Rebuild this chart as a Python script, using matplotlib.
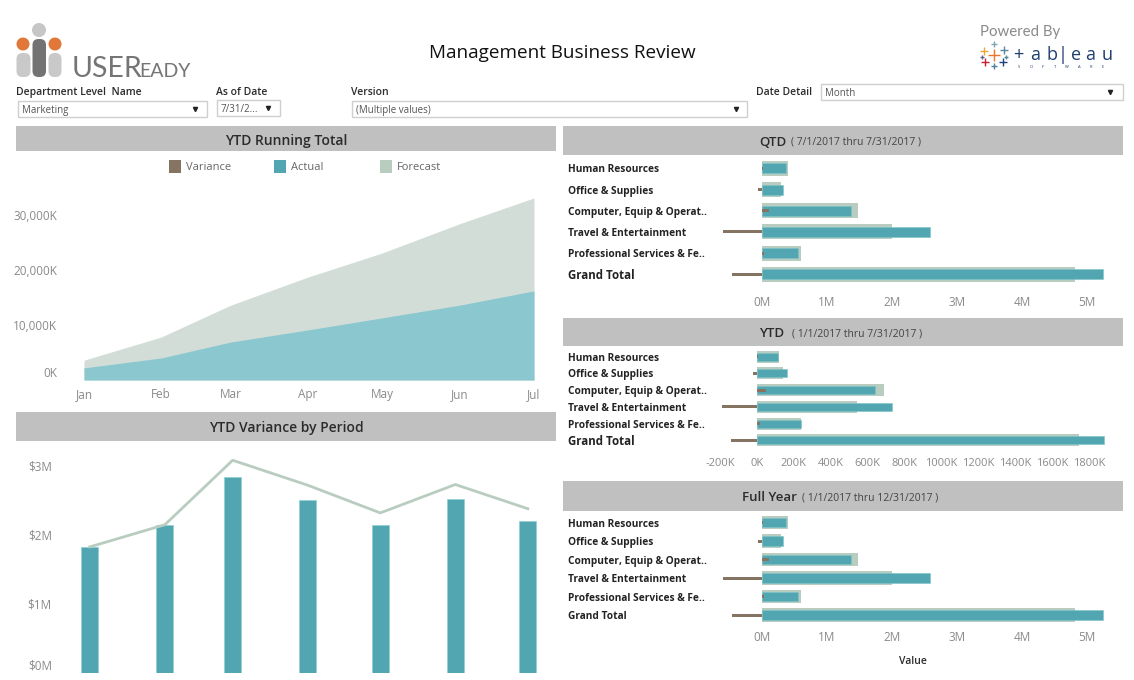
#!/usr/bin/env python3
import pandas as pd
import matplotlib
matplotlib.use('Agg')
import matplotlib.pyplot as plt
from matplotlib.patches import Circle, FancyBboxPatch, Rectangle

plt.rcParams.update({
    "font.family": ["Open Sans", "DejaVu Sans"],
    "font.size": 8,
})

# values
months = pd.to_datetime(['2017-01-01', '2017-02-01', '2017-03-01', '2017-04-01',
                         '2017-05-01', '2017-06-01', '2017-07-01'])
month_labels = ['Jan', 'Feb', 'Mar', 'Apr', 'May', 'Jun', 'Jul']

running_forecast = [3600, 7800, 13600, 18700, 23100, 28400, 33100]
running_actual = [2200, 4000, 6900, 9100, 11300, 13600, 16200]

period_actual = [1.82, 2.14, 2.83, 2.50, 2.14, 2.51, 2.19]
period_forecast = [1.82, 2.14, 3.07, 2.71, 2.31, 2.72, 2.37]

departments = ['Human Resources', 'Office & Supplies', 'Computer, Equip & Operat..',
               'Travel & Entertainment', 'Professional Services & Fe..', 'Grand Total']

qtd_forecast = [0.405, 0.29, 1.47, 2.0, 0.60, 4.81]
qtd_actual = [0.37, 0.33, 1.37, 2.58, 0.56, 5.25]
qtd_variance = [0.02, -0.055, 0.11, -0.60, 0.03, -0.46]

ytd_forecast = [117, 141, 687, 540, 241, 1745]
ytd_actual = [113, 161, 641, 731, 237, 1882]
ytd_variance = [4, -22, 48, -187, 14, -139]

fy_forecast = [0.405, 0.29, 1.47, 2.0, 0.60, 4.81]
fy_actual = [0.37, 0.33, 1.37, 2.58, 0.56, 5.25]
fy_variance = [0.02, -0.055, 0.11, -0.60, 0.03, -0.46]

VARIANCE = '#857461'
ACTUAL = '#52a6b1'
FORECAST = '#b8cdc0'
HEADER = '#c0c0c0'
TICK = '#8a8a8a'
DARK = '#2b2b2b'
W, H = 1134, 680

fig = plt.figure(figsize=(W / 100, H / 100), dpi=100, facecolor='white')

# whole-figure layer in pixel coordinates for headers, filters and logos
bg = fig.add_axes([0, 0, 1, 1])
bg.set_xlim(0, W)
bg.set_ylim(H, 0)
bg.axis('off')


def px_axes(x0, y0, x1, y1):
    ax = fig.add_axes([x0 / W, 1 - y1 / H, (x1 - x0) / W, (y1 - y0) / H])
    ax.patch.set_alpha(0)
    for s in ax.spines.values():
        s.set_visible(False)
    ax.tick_params(length=0, labelcolor=TICK, labelsize=8.5)
    return ax


def header(x0, y0, x1, y1):
    bg.add_patch(Rectangle((x0, y0), x1 - x0, y1 - y0, color=HEADER, lw=0))


def dropdown(x0, y0, x1, y1, text, arrow_x):
    bg.add_patch(Rectangle((x0, y0), x1 - x0, y1 - y0, fc='white', ec='#cfcfcf', lw=1.0))
    bg.text(x0 + 4, (y0 + y1) / 2 + 1, text, fontsize=7, color='#555555', va='center')
    bg.plot([arrow_x], [(y0 + y1) / 2 - 0.5], marker='v', ms=3, color='#222222', ls='none')


# title and logos
bg.text(562.5, 53, 'Management Business Review', fontsize=13.6, color='#111111', ha='center', va='center')

bg.add_patch(Circle((39, 30), 7, color='#c6c6c6', lw=0))
bg.add_patch(Circle((23, 44), 6.5, color='#e2773a', lw=0))
bg.add_patch(Circle((55, 44), 6.5, color='#e2773a', lw=0))
for px0, py0, px1, col in [(16.5, 53, 30.5, '#c9c9c9'), (48.5, 53, 61.5, '#c9c9c9'), (32.5, 39, 46, '#737373')]:
    bg.add_patch(FancyBboxPatch((px0 + 6, py0 + 6), px1 - px0 - 12, 77 - py0 - 12,
                                boxstyle='round,pad=6,rounding_size=6', color=col, lw=0))
bg.text(72, 77, 'USER', fontsize=20.5, color='#757575', family=['Lato', 'DejaVu Sans'], va='baseline')
bg.text(139, 77, 'EADY', fontsize=14, color='#757575', family=['Lato', 'DejaVu Sans'], va='baseline')

bg.text(980, 32, 'Powered By', fontsize=10.8, color='#8a8a8a', family=['Lato', 'DejaVu Sans'], va='center')
for lx, ly, size, col in [(994, 55, 9, '#e8762b'), (984, 51, 6, '#eba53a'), (1004, 50, 6, '#5b879b'),
                          (985, 62, 6, '#c72035'), (1003, 62, 6, '#1f447b'), (994, 44, 4, '#7fa9ae'),
                          (994, 66, 4, '#4e7fa0'), (982, 57, 3.5, '#5b6591'), (1006, 57, 3.5, '#59879b')]:
    bg.plot([lx], [ly], marker='+', ms=size, mew=1.0, color=col, ls='none')
for lx, letter in zip([1018, 1035, 1052, 1063, 1076, 1090, 1107], ['+', 'a', 'b', '|', 'e', 'a', 'u']):
    bg.text(lx, 55, letter, fontsize=13, color='#1f3f6e', ha='center', va='center')
for lx, letter in zip(range(1019, 1110, 12), 'SOFTWARE'):
    bg.text(lx, 67, letter, fontsize=3, color='#1f3f6e', ha='center', va='center')

# filters
for lx, ly, label in [(16, 92, 'Department Level  Name'), (216, 92, 'As of Date'),
                      (351, 92, 'Version'), (756, 92, 'Date Detail')]:
    bg.text(lx, ly + 0.5, label, fontsize=7.5, color=DARK, weight='semibold', va='center')
dropdown(18, 101, 207, 117, 'Marketing', 195)
dropdown(217, 100, 280, 116, '7/31/2...', 268)
dropdown(352, 101, 747, 117, '(Multiple values)', 736)
dropdown(821, 84, 1123, 100, 'Month', 1110)

# section headers
header(16, 126, 556, 151)
bg.text(286, 141, 'YTD Running Total', fontsize=10, color=DARK, weight='semibold', ha='center', va='center')
header(16, 412, 556, 441)
bg.text(286, 428, 'YTD Variance by Period', fontsize=10, color=DARK, weight='semibold', ha='center', va='center')
for y0, y1, name, name_x, span, span_x in [
        (126, 155, 'QTD', 759, '( 7/1/2017 thru 7/31/2017 )', 791),
        (318, 346, 'YTD', 759, '( 1/1/2017 thru 7/31/2017 )', 792),
        (481, 511, 'Full Year', 742, '( 1/1/2017 thru 12/31/2017 )', 802)]:
    header(563, y0, 1123, y1)
    bg.text(name_x, (y0 + y1) / 2 + 1.5, name, fontsize=9.5, color=DARK, weight='semibold', va='center')
    bg.text(span_x, (y0 + y1) / 2 + 2, span, fontsize=7.5, color='#444444', va='center')

# legend
for sx, label, col in [(169, 'Variance', VARIANCE), (274, 'Actual', ACTUAL), (380, 'Forecast', FORECAST)]:
    bg.add_patch(Rectangle((sx, 160), 12, 13, color=col, lw=0))
    bg.text(sx + 17, 167, label, fontsize=8, color='#666666', va='center')

# YTD running total
ax = px_axes(60, 175, 556, 380)
ax.fill_between(months, running_forecast, color='#d3ddd7', lw=0)
ax.fill_between(months, running_actual, color='#8ac7ce', lw=0)
ax.set_xlim(months[0] - pd.Timedelta(days=9.65), months[-1] + pd.Timedelta(days=8.85))
ax.set_ylim(0, 205 / 55 * 10000)
ax.set_xticks(months)
ax.set_xticklabels(month_labels)
ax.set_yticks([0, 10000, 20000, 30000])
ax.set_yticklabels(['0K', '10,000K', '20,000K', '30,000K'])
ax.get_yticklabels()[0].set_va('bottom')
ax.tick_params(axis='x', pad=6)
ax.tick_params(axis='y', pad=2)

# YTD variance by period
ax = px_axes(56, 445, 556, 673)
ax.bar(months, period_actual, width=7, color=ACTUAL, edgecolor='#8fd0d4', linewidth=0.5)
ax.plot(months, period_forecast, color=FORECAST, linewidth=2)
ax.set_xlim(months[0] - pd.Timedelta(days=14), months[-1] + pd.Timedelta(days=11.6))
ax.set_ylim(0, 228 / 69.3)
ax.set_xticks([])
ax.set_yticks([0, 1, 2, 3])
ax.set_yticklabels(['$0M', '$1M', '$2M', '$3M'])
ax.get_yticklabels()[0].set_va('bottom')
ax.tick_params(axis='y', pad=3)


def bullet(box, zero_px, px_per_unit, first_y, step, heights, forecast, actual, variance,
           ticks, tick_labels, total_size, tick_pad):
    x0, x1 = box
    y0, y1 = first_y - step / 2, first_y + step * 5.5
    ax = px_axes(x0, y0, x1, y1)
    pos = range(len(departments))
    ax.barh(pos, forecast, height=heights[0] / step, color=FORECAST, lw=0)
    ax.barh(pos, actual, height=heights[1] / step, color=ACTUAL, edgecolor='#7cc4ca', linewidth=0.4)
    ax.barh(pos, variance, height=3 / step, color=VARIANCE, lw=0)
    ax.set_xlim((x0 - zero_px) / px_per_unit, (x1 - zero_px) / px_per_unit)
    ax.set_ylim(5.5, -0.5)
    ax.set_xticks(ticks)
    ax.set_xticklabels(tick_labels)
    ax.set_yticks(list(pos))
    ax.set_yticklabels(departments, ha='left', fontsize=7.3, weight='bold')
    ax.tick_params(axis='y', pad=(x0 - 568) * 0.72, labelcolor='#222222')
    ax.tick_params(axis='x', pad=tick_pad)
    ax.get_yticklabels()[-1].set_fontsize(total_size)
    return ax


m_ticks = [0, 1, 2, 3, 4, 5]
m_labels = ['0M', '1M', '2M', '3M', '4M', '5M']
k_ticks = list(range(-200, 1801, 200))
k_labels = [f'{k}K' for k in k_ticks]

bullet((712, 1122), 762, 65, 168.3, 21.2, (15, 10), qtd_forecast, qtd_actual, qtd_variance,
       m_ticks, m_labels, 8.3, 8)
ytd_ax = bullet((712, 1122), 757, 184.5 / 1000, 356.7, 16.7, (12, 8), ytd_forecast, ytd_actual, ytd_variance,
                k_ticks, k_labels, 8.3, 6.5)
ytd_ax.tick_params(axis='x', labelsize=8)
fy_ax = bullet((712, 1122), 762, 65, 522.7, 18.5, (13.5, 9.5), fy_forecast, fy_actual, fy_variance,
               m_ticks, m_labels, 7.3, 5)
fy_ax.set_xlabel('Value', fontsize=7.5, color=DARK, weight='semibold')
fy_ax.xaxis.set_label_coords((913 - 712) / 410, -0.28)

fig.savefig('out.png', dpi=100)
